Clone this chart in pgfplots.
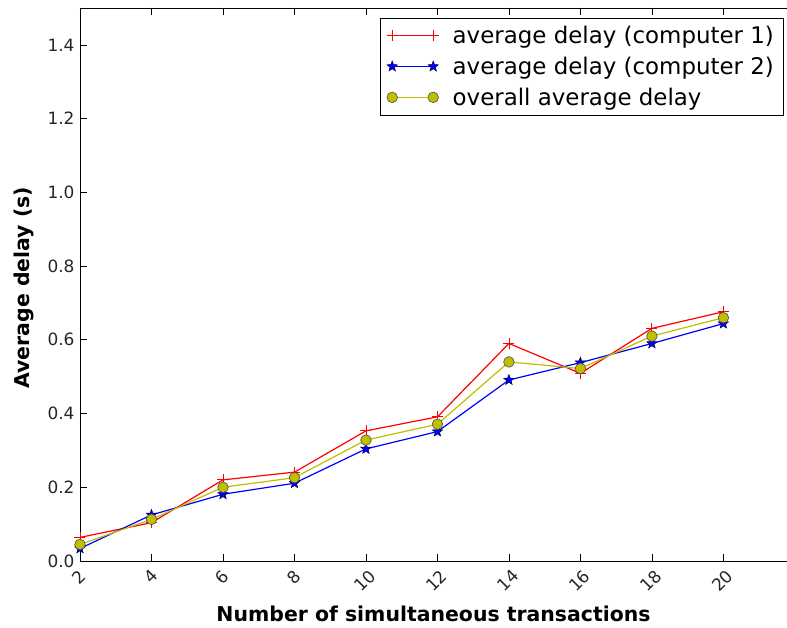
\documentclass[border=0pt]{standalone}
\usepackage{pgfplots}
\pgfplotsset{compat=1.18}
\usetikzlibrary{plotmarks}
\usepackage{fontspec}
\setmainfont{DejaVu Sans}
\definecolor{olivey}{rgb}{0.75,0.75,0}
\pgfdeclareplotmark{fstar}{%
  \pgfpathmoveto{\pgfpointpolar{90}{\pgfplotmarksize}}%
  \pgfpathlineto{\pgfpointpolar{126}{0.42\pgfplotmarksize}}%
  \pgfpathlineto{\pgfpointpolar{162}{\pgfplotmarksize}}%
  \pgfpathlineto{\pgfpointpolar{198}{0.42\pgfplotmarksize}}%
  \pgfpathlineto{\pgfpointpolar{234}{\pgfplotmarksize}}%
  \pgfpathlineto{\pgfpointpolar{270}{0.42\pgfplotmarksize}}%
  \pgfpathlineto{\pgfpointpolar{306}{\pgfplotmarksize}}%
  \pgfpathlineto{\pgfpointpolar{342}{0.42\pgfplotmarksize}}%
  \pgfpathlineto{\pgfpointpolar{18}{\pgfplotmarksize}}%
  \pgfpathlineto{\pgfpointpolar{54}{0.42\pgfplotmarksize}}%
  \pgfpathclose
  \pgfusepathqfillstroke}
\pgfdeclareplotmark{legline}{%
  \pgfpathmoveto{\pgfqpoint{0pt}{0pt}}%
  \pgfpathlineto{\pgfqpoint{41bp}{0pt}}%
  \pgfusepathqstroke}
\begin{document}
\begin{tikzpicture}
\begin{axis}[
  scale only axis,
  width=707bp, height=553bp,
  xmin=2, xmax=21.78,
  ymin=0, ymax=1.5,
  axis x line=box,
  axis y line=left,
  axis line style={-, black, line width=0.9bp},
  tick align=inside,
  major tick length=7bp,
  tick style={black, line width=0.7bp},
  xtick={2,4,...,20},
  ytick={0,0.2,...,1.4},
  /pgf/number format/assume math mode=true,
  yticklabel style={/pgf/number format/fixed, /pgf/number format/fixed zerofill, /pgf/number format/precision=1, xshift=-2bp},
  ticklabel style={font=\fontsize{17}{20}\selectfont, text=black!85},
  xticklabel={\rotatebox{45}{\pgfmathprintnumber{\tick}}},
  xticklabel style={anchor=north, yshift=-4bp, xshift=-1bp},
  xlabel={\bfseries Number of simultaneous transactions},
  ylabel={\bfseries Average delay (s)},
  label style={font=\fontsize{20.5}{24}\selectfont},
  xlabel style={at={(axis description cs:0.5,0)}, anchor=center, yshift=-53bp},
  ylabel style={at={(axis description cs:-0.079,0.494)}, anchor=center},
  legend style={at={(rel axis cs:0.9945,0.982)}, anchor=north east,
    font=\fontsize{23}{27}\selectfont,
    inner xsep=7bp, inner ysep=6bp, row sep=8bp,
    /tikz/every odd column/.append style={column sep=12bp}},
  legend cell align=left,
]
\addlegendimage{legend image code/.code={
    \path[draw=red, line width=1.2bp, mark=legline] plot[only marks] coordinates {(0bp,0bp)};
    \path[draw=red, line width=0.8bp, mark=+, mark size=5.5bp] plot[only marks] coordinates {(0bp,0bp) (41bp,0bp)};}}
\addlegendentry{average delay (computer 1)}
\addlegendimage{legend image code/.code={
    \path[draw=blue, line width=1.2bp, mark=legline] plot[only marks] coordinates {(0bp,0bp)};
    \path[draw=blue!30!black, fill=blue, line width=0.5bp, mark=fstar, mark size=5.5bp] plot[only marks] coordinates {(0bp,0bp) (41bp,0bp)};}}
\addlegendentry{average delay (computer 2)}
\addlegendimage{legend image code/.code={
    \path[draw=olivey, line width=1.2bp, mark=legline] plot[only marks] coordinates {(0bp,0bp)};
    \path[draw=black!70, fill=olivey, line width=0.6bp, mark=*, mark size=5.3bp] plot[only marks] coordinates {(0bp,0bp) (41bp,0bp)};}}
\addlegendentry{overall average delay}
\addplot[color=red, line width=1.2bp, mark=+, mark size=5.5bp, mark options={line width=0.8bp}, forget plot] coordinates {
(2,0.064) (4,0.104) (6,0.220) (8,0.241) (10,0.353) (12,0.391) (14,0.590) (16,0.509) (18,0.631) (20,0.676)};
\addplot[color=blue, line width=1.2bp, mark=fstar, mark size=5.5bp, mark options={fill=blue, draw=blue!30!black, line width=0.5bp}, forget plot] coordinates {
(2,0.034) (4,0.125) (6,0.181) (8,0.211) (10,0.304) (12,0.351) (14,0.491) (16,0.538) (18,0.590) (20,0.644)};
\addplot[color=olivey, line width=1.2bp, mark=*, mark size=5.3bp, mark options={fill=olivey, draw=black!70, line width=0.6bp}, forget plot] coordinates {
(2,0.045) (4,0.113) (6,0.200) (8,0.226) (10,0.328) (12,0.371) (14,0.540) (16,0.522) (18,0.610) (20,0.660)};
\end{axis}
\pgfresetboundingbox
\path (current axis.south west) ++(-80bp,-67bp) coordinate (bbA);
\path (current axis.north east) ++(0bp,8bp) coordinate (bbB);
\path[use as bounding box] (bbA) rectangle (bbB);
\end{tikzpicture}
\end{document}
